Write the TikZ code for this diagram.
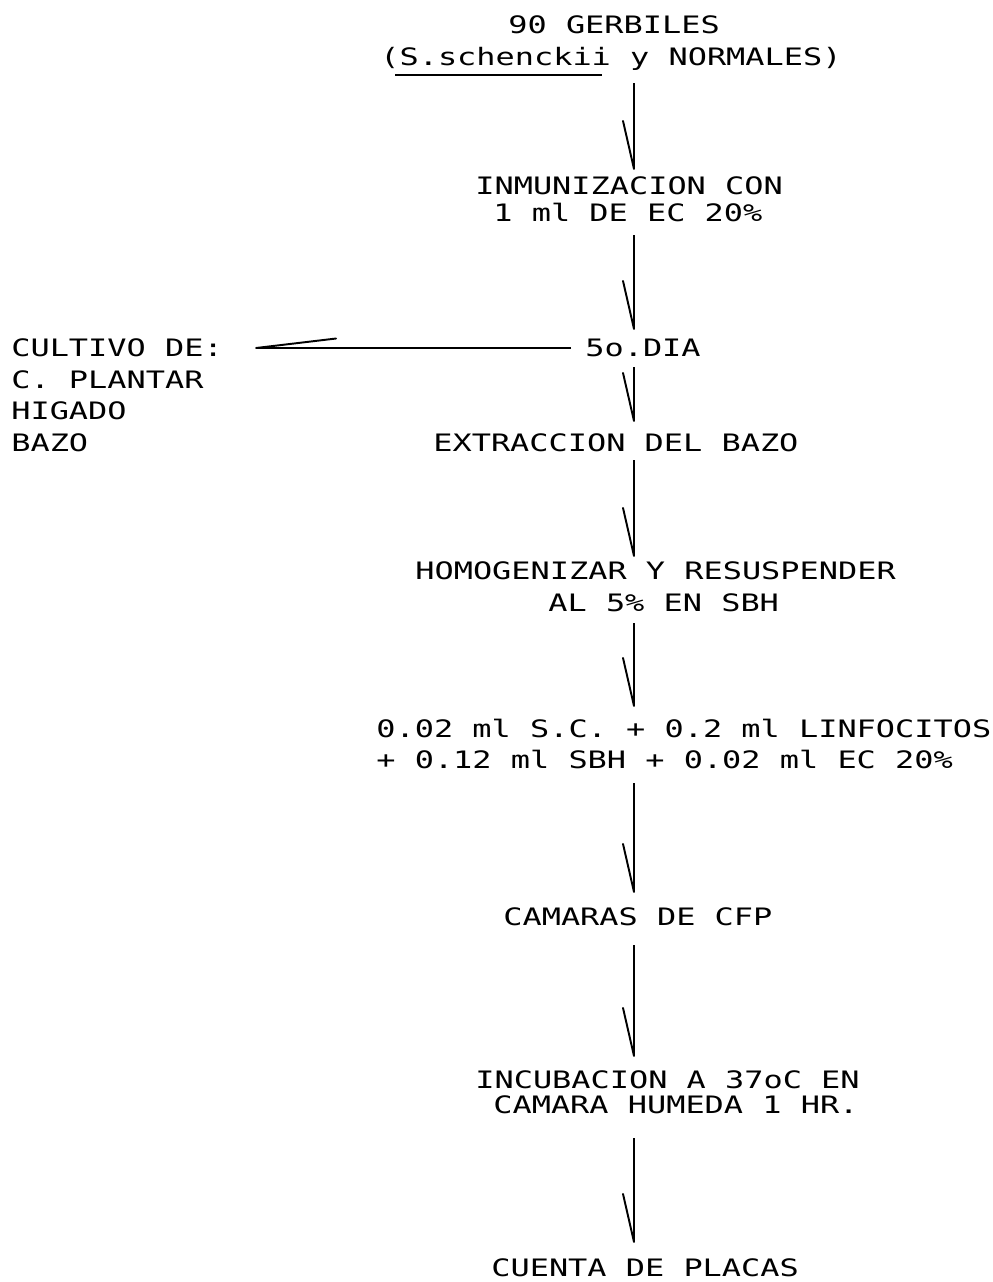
\documentclass[tikz,border=0pt]{standalone}
\usepackage{fontspec}
\usepackage{tikz}
\usetikzlibrary{arrows.meta}
\newfontfamily\dotfont[FakeStretch=1.33]{DejaVu Sans Mono}

\tikzset{
  stage/.style={anchor=west, inner sep=0pt, text height=0.35cm, text depth=0pt,
    font=\dotfont\fontsize{13.66}{16}\selectfont},
  flow/.style={line width=1.1pt, -{Straight Barb[harpoon,swap,round,length=0.96cm,width=0.44cm]}},
  side/.style={line width=1.1pt, -{Straight Barb[harpoon,swap,round,length=1.6cm,width=0.38cm]}}
}

\begin{document}
\begin{tikzpicture}[x=0.02cm, y=-0.02cm]
        \useasboundingbox (0,0) rectangle (993,1282);
        \coordinate (axis) at (634,0);

        \node[stage] (gerb1) at (508,25) {90 GERBILES};
        \node[stage] (gerb2) at (380,57) {(S.schenckii y NORMALES)};
        \draw[line width=0.8pt] (395,75) -- (602,75);

        \node[stage] (inmun1) at (475,186) {INMUNIZACION CON};
        \node[stage] (inmun2) at (493,213) {1 ml DE EC 20\%};

        \node[stage] (dia) at (585,348) {5o.DIA};
        \node[stage] (cult1) at (11,348) {CULTIVO DE:};
        \node[stage] (cult2) at (11,380) {C. PLANTAR};
        \node[stage] (cult3) at (11,411) {HIGADO};
        \node[stage] (cult4) at (11,443) {BAZO};
        \draw[side, shorten <=14*0.02cm, shorten >=32*0.02cm] (dia.west) -- (cult1.east);

        \node[stage] (extr) at (433,443) {EXTRACCION DEL BAZO};
        \node[stage] (homog1) at (415,571) {HOMOGENIZAR Y RESUSPENDER};
        \node[stage] (homog2) at (548,603) {AL 5\% EN SBH};
        \node[stage] (mix1) at (376,729) {0.02 ml S.C. + 0.2 ml LINFOCITOS};
        \node[stage] (mix2) at (376,760) {+ 0.12 ml SBH + 0.02 ml EC 20\%};
        \node[stage] (camaras) at (503,917) {CAMARAS DE CFP};
        \node[stage] (incub1) at (475,1080) {INCUBACION A 37oC EN};
        \node[stage] (incub2) at (493,1105) {CAMARA HUMEDA 1 HR.};
        \node[stage] (cuenta) at (491,1268) {CUENTA DE PLACAS};

        % main column
        \foreach \a/\b/\s/\e in {gerb2/inmun1/17/7, inmun2/dia/13/9, dia/extr/10/12,
            extr/homog1/8/5, homog2/mix1/11/13, mix2/camaras/14/15,
            camaras/incub1/19/14, incub2/cuenta/24/16} {
          \draw[flow, shorten <=\s*0.02cm, shorten >=\e*0.02cm]
            (\a.south -| axis) -- (\b.north -| axis);
        }
      \end{tikzpicture}
\end{document}
